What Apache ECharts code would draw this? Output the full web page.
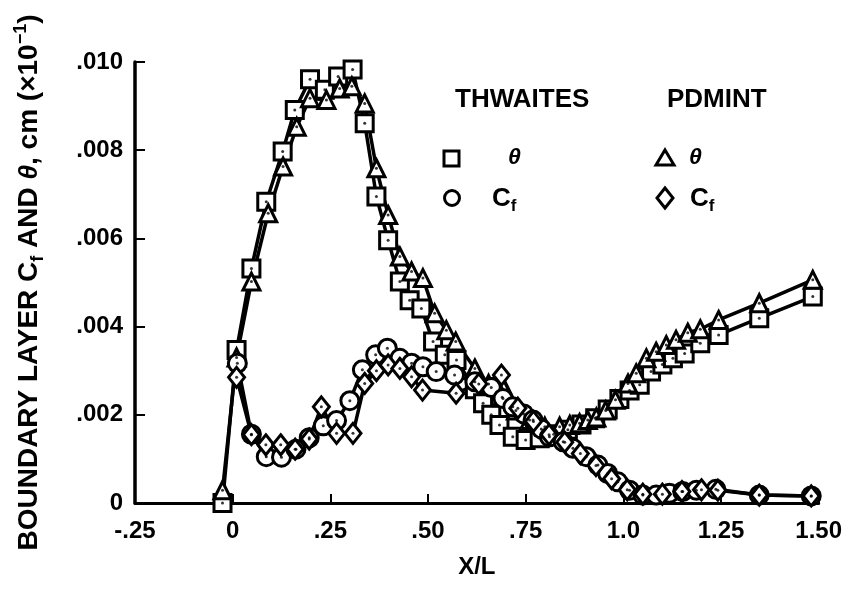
<!DOCTYPE html>
<html>
<head>
<meta charset="utf-8">
<script src="https://cdn.jsdelivr.net/npm/echarts@6/dist/echarts.min.js"></script>
<style>
  html, body { margin: 0; padding: 0; background: #fff; }
  #chart { width: 845px; height: 595px; }
</style>
</head>
<body>
<div id="chart"></div>
<script>
// tick labels
var xTickLabels = ['-.25', '0', '.25', '.50', '.75', '1.0', '1.25', '1.50'];
var yTickLabels = ['0', '.002', '.004', '.006', '.008', '.010'];

// THWAITES theta (squares)
var thwThetaX = [-0.026, 0.010, 0.048, 0.086, 0.128, 0.159, 0.198, 0.236, 0.270, 0.307, 0.338, 0.368, 0.398, 0.428, 0.453, 0.483, 0.513, 0.543, 0.573, 0.620, 0.641, 0.662, 0.683, 0.717, 0.750, 0.786, 0.822, 0.858, 0.893, 0.928, 0.960, 0.990, 1.016, 1.042, 1.071, 1.100, 1.127, 1.157, 1.197, 1.244, 1.348, 1.485];
var thwThetaY = [0.0000, 0.00347, 0.00532, 0.00683, 0.00797, 0.00891, 0.00961, 0.00937, 0.00967, 0.00983, 0.00861, 0.00695, 0.00596, 0.00502, 0.00460, 0.00441, 0.00366, 0.00336, 0.00324, 0.00258, 0.00226, 0.00200, 0.00177, 0.00150, 0.00143, 0.00147, 0.00156, 0.00166, 0.00178, 0.00192, 0.00212, 0.00236, 0.00255, 0.00268, 0.00298, 0.00314, 0.00328, 0.00339, 0.00362, 0.00381, 0.00419, 0.00468];

// THWAITES Cf (circles)
var thwCfX = [0.012, 0.048, 0.086, 0.125, 0.162, 0.196, 0.232, 0.266, 0.300, 0.332, 0.366, 0.396, 0.428, 0.458, 0.487, 0.521, 0.568, 0.620, 0.662, 0.692, 0.717, 0.745, 0.769, 0.790, 0.811, 0.846, 0.871, 0.905, 0.935, 0.960, 0.986, 1.016, 1.050, 1.084, 1.118, 1.152, 1.187, 1.237, 1.348, 1.481];
var thwCfY = [0.00317, 0.00156, 0.00105, 0.00104, 0.00122, 0.00148, 0.00175, 0.00187, 0.00232, 0.00302, 0.00336, 0.00351, 0.00328, 0.00317, 0.00309, 0.00298, 0.00290, 0.00275, 0.00262, 0.00237, 0.00218, 0.00202, 0.00188, 0.00168, 0.00150, 0.00139, 0.00124, 0.00105, 0.00086, 0.00067, 0.00048, 0.00029, 0.00018, 0.00018, 0.00022, 0.00026, 0.00029, 0.00031, 0.00018, 0.00016];

// PDMINT theta (triangles)
var pdmThetaX = [-0.026, 0.010, 0.048, 0.091, 0.129, 0.164, 0.198, 0.240, 0.274, 0.305, 0.338, 0.368, 0.398, 0.428, 0.458, 0.487, 0.517, 0.547, 0.571, 0.620, 0.655, 0.690, 0.725, 0.760, 0.799, 0.837, 0.863, 0.888, 0.909, 0.931, 0.955, 0.980, 1.012, 1.033, 1.059, 1.084, 1.110, 1.135, 1.165, 1.197, 1.244, 1.348, 1.485];
var pdmThetaY = [0.00029, 0.00330, 0.00502, 0.00657, 0.00763, 0.00853, 0.00918, 0.00914, 0.00940, 0.00945, 0.00906, 0.00759, 0.00653, 0.00559, 0.00525, 0.00510, 0.00430, 0.00392, 0.00366, 0.00305, 0.00270, 0.00240, 0.00210, 0.00188, 0.00173, 0.00173, 0.00177, 0.00181, 0.00188, 0.00194, 0.00210, 0.00234, 0.00271, 0.00294, 0.00328, 0.00343, 0.00358, 0.00370, 0.00386, 0.00394, 0.00415, 0.00453, 0.00506];

// PDMINT Cf (diamonds)
var pdmCfX = [0.010, 0.048, 0.085, 0.123, 0.160, 0.196, 0.227, 0.266, 0.308, 0.338, 0.368, 0.398, 0.428, 0.458, 0.486, 0.572, 0.630, 0.688, 0.730, 0.770, 0.810, 0.850, 0.890, 0.930, 0.970, 1.010, 1.050, 1.100, 1.150, 1.200, 1.242, 1.348, 1.481];
var pdmCfY = [0.00285, 0.00155, 0.00132, 0.00132, 0.00122, 0.00145, 0.00218, 0.00158, 0.00158, 0.00271, 0.00300, 0.00313, 0.00305, 0.00286, 0.00256, 0.00249, 0.00270, 0.00290, 0.00215, 0.00185, 0.00155, 0.00138, 0.00112, 0.00085, 0.00055, 0.00030, 0.00020, 0.00020, 0.00026, 0.00030, 0.00029, 0.00018, 0.00016];

function pairs(xs, ys) {
  return xs.map(function (x, i) { return [x, ys[i]]; });
}

var FONT = 'Liberation Sans';

function lineSeries(name, xs, ys, symbol, size) {
  return {
    name: name,
    type: 'line',
    data: pairs(xs, ys),
    symbol: symbol,
    symbolSize: size,
    showAllSymbol: true,
    lineStyle: { color: '#000', width: 3.5 },
    itemStyle: { color: '#fff', borderColor: '#000', borderWidth: 3 },
    silent: true,
    z: 2
  };
}

// small centre dot inside each open marker
function dotSeries(xs, ys) {
  return {
    type: 'scatter',
    data: pairs(xs, ys),
    symbol: 'circle',
    symbolSize: 3,
    itemStyle: { color: '#000' },
    silent: true,
    z: 5
  };
}

var chart = echarts.init(document.getElementById('chart'));
chart.setOption({
  animation: false,
  backgroundColor: '#fff',
  grid: { left: 135, right: 25, top: 62, bottom: 92 },
  xAxis: {
    type: 'value',
    position: 'bottom',
    min: -0.25,
    max: 1.5,
    interval: 0.25,
    name: 'X/L',
    nameLocation: 'middle',
    nameGap: 52,
    nameTextStyle: { fontFamily: FONT, fontWeight: 'bold', fontSize: 24, color: '#000' },
    axisLine: { show: true, onZero: false, lineStyle: { color: '#000', width: 3 } },
    axisTick: { inside: true, length: 9, lineStyle: { color: '#000', width: 2 } },
    axisLabel: {
      margin: 16,
      fontFamily: FONT, fontWeight: 'bold', fontSize: 24, color: '#000',
      formatter: function (v, i) { return xTickLabels[i]; }
    },
    splitLine: { show: false }
  },
  yAxis: {
    type: 'value',
    position: 'left',
    min: 0,
    max: 0.010,
    interval: 0.002,
    name: 'BOUNDARY LAYER C{s|f} AND {i|θ}, cm (×10{p|−1})',
    nameLocation: 'middle',
    nameRotate: 90,
    nameGap: 88,
    nameTextStyle: {
      fontFamily: FONT, fontWeight: 'bold', fontSize: 28, color: '#000', lineHeight: 35,
      rich: {
        s: { fontFamily: FONT, fontWeight: 'bold', fontSize: 18, lineHeight: 14, verticalAlign: 'bottom', color: '#000' },
        i: { fontFamily: FONT, fontWeight: 'bold', fontStyle: 'italic', fontSize: 26, color: '#000' },
        p: { fontFamily: FONT, fontWeight: 'bold', fontSize: 18, lineHeight: 12, verticalAlign: 'top', color: '#000' }
      }
    },
    axisLine: { show: true, onZero: false, lineStyle: { color: '#000', width: 3.5 } },
    axisTick: { show: true, inside: true, length: 10, lineStyle: { color: '#000', width: 2 } },
    axisLabel: {
      margin: 12,
      fontFamily: FONT, fontWeight: 'bold', fontSize: 24, color: '#000',
      formatter: function (v, i) { return yTickLabels[i]; }
    },
    splitLine: { show: false }
  },
  series: [
    lineSeries('THWAITES θ', thwThetaX, thwThetaY, 'rect', 17),
    lineSeries('PDMINT θ', pdmThetaX, pdmThetaY, 'triangle', 17),
    lineSeries('THWAITES Cf', thwCfX, thwCfY, 'circle', 18),
    lineSeries('PDMINT Cf', pdmCfX, pdmCfY, 'diamond', [16, 20]),
    dotSeries(thwThetaX, thwThetaY),
    dotSeries(pdmThetaX, pdmThetaY),
    dotSeries(thwCfX, thwCfY),
    dotSeries(pdmCfX, pdmCfY)
  ],
  graphic: [
    { type: 'text', left: 455, top: 87, style: { text: 'THWAITES', font: 'bold 26px "Liberation Sans"', fill: '#000' } },
    { type: 'text', left: 667, top: 87, style: { text: 'PDMINT', font: 'bold 26px "Liberation Sans"', fill: '#000' } },
    { type: 'rect', shape: { x: 444, y: 151, width: 15, height: 15 }, style: { fill: '#fff', stroke: '#000', lineWidth: 3 } },
    { type: 'circle', shape: { cx: 452, cy: 198, r: 7.5 }, style: { fill: '#fff', stroke: '#000', lineWidth: 3 } },
    { type: 'polygon', shape: { points: [[665, 150], [674, 165], [656, 165]] }, style: { fill: '#fff', stroke: '#000', lineWidth: 3 } },
    { type: 'polygon', shape: { points: [[665, 188], [673, 198], [665, 208], [657, 198]] }, style: { fill: '#fff', stroke: '#000', lineWidth: 3 } },
    { type: 'text', left: 508, top: 146, style: { text: 'θ', font: 'italic bold 23px "Liberation Sans"', fill: '#000' } },
    { type: 'text', left: 689, top: 146, style: { text: 'θ', font: 'italic bold 23px "Liberation Sans"', fill: '#000' } },
    {
      type: 'text', left: 492, top: 183,
      style: {
        text: 'C{s|f}', font: 'bold 26px "Liberation Sans"', fill: '#000', lineHeight: 32,
        rich: { s: { font: 'bold 17px "Liberation Sans"', lineHeight: 14, verticalAlign: 'bottom', fill: '#000' } }
      }
    },
    {
      type: 'text', left: 690, top: 183,
      style: {
        text: 'C{s|f}', font: 'bold 26px "Liberation Sans"', fill: '#000', lineHeight: 32,
        rich: { s: { font: 'bold 17px "Liberation Sans"', lineHeight: 14, verticalAlign: 'bottom', fill: '#000' } }
      }
    }
  ]
});
</script>
</body>
</html>
